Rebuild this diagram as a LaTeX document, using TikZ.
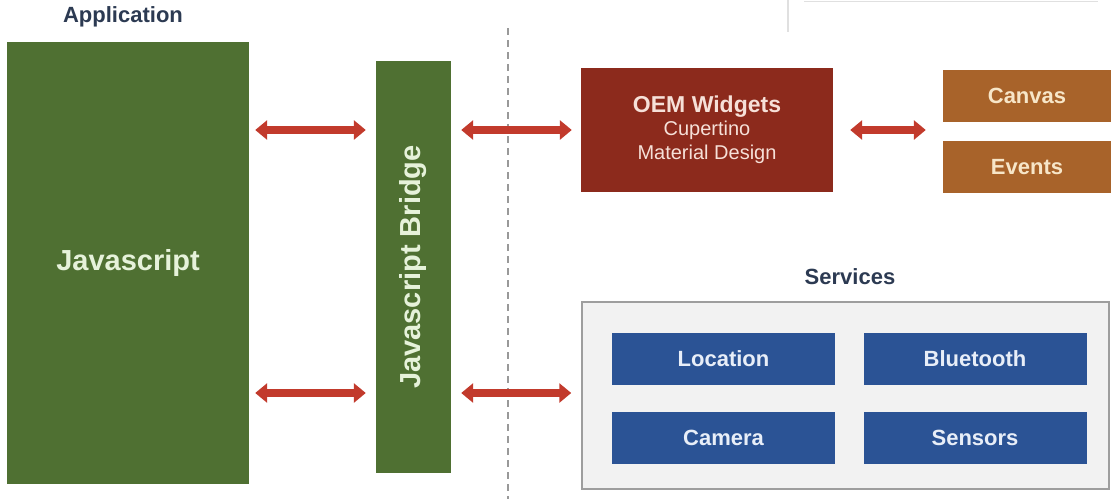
\documentclass[tikz,border=0pt]{standalone}
\usepackage{fontspec}
\usepackage{graphicx}
\setmainfont{Liberation Sans}
\usetikzlibrary{arrows.meta,calc}
\definecolor{jsgreen}{HTML}{4F7032}
\definecolor{oemred}{HTML}{8C2A1C}
\definecolor{canbrown}{HTML}{A8632A}
\definecolor{svcblue}{HTML}{2B5395}
\definecolor{arrred}{HTML}{C23A2C}
\definecolor{navy}{HTML}{2C3A52}
\definecolor{paleg}{HTML}{E6F2DA}
\definecolor{palep}{HTML}{F6E0D8}
\definecolor{cream}{HTML}{F7E6C8}
\definecolor{paleb}{HTML}{E8EEF8}
\tikzset{
  blk/.style={draw=none, inner sep=0pt, align=center},
  greenbox/.style={blk, fill=jsgreen, text=paleg, font=\fontsize{29}{33}\selectfont\bfseries},
  oembox/.style={blk, fill=oemred, text=palep, font=\fontsize{20}{24}\selectfont},
  brownbox/.style={blk, fill=canbrown, text=cream, font=\fontsize{22}{26}\selectfont\bfseries, minimum width=168pt, minimum height=52pt},
  bluebox/.style={blk, fill=svcblue, text=paleb, font=\fontsize{22}{26}\selectfont\bfseries, minimum width=223pt, minimum height=52pt},
  header/.style={text=navy, font=\fontsize{22}{26}\selectfont\bfseries, inner sep=0pt},
  biga/.style={draw=arrred, line width=7.5pt, {Triangle[width=19pt,length=12pt]}-{Triangle[width=19pt,length=12pt]}},
  divider/.style={draw=gray!80, line width=1.6pt, dash pattern=on 7pt off 5pt},
  frag/.style={draw=black!12, line width=1.5pt}
}
\begin{document}
\begin{tikzpicture}[x=1pt,y=-1pt]
\useasboundingbox (0,0) rectangle (1114,499);
% faint fragment at top right
\draw[frag] (788,0) -- (788,32);
\draw[frag] (804,1.5) -- (1098,1.5);
% divider
\coordinate (dtop) at (508,28);
\coordinate (dbot) at (508,499);
\draw[divider] (dtop) -- (dbot);
% labels
\node[header] (app) at (123,17) {Application};
\node[header] (svclbl) at (850,277) {Services};
% main boxes
\node[greenbox, minimum width=242pt, minimum height=442pt] (js) at (128,263) {\raisebox{-4pt}{Javascript}};
\node[greenbox, minimum width=75pt, minimum height=412pt] (bridge) at (413.5,267) {\rotatebox{90}{Javascript Bridge}};
\node[oembox, minimum width=252pt, minimum height=124pt] (oem) at (707,130)
  {{\fontsize{23}{26}\selectfont\bfseries OEM Widgets}\\[-1pt]Cupertino\\Material Design};
\node[brownbox] (canvas) at (1027,96) {Canvas};
\node[brownbox] (events) at (1027,167) {Events};
\node[blk, fill=black!5, draw=black!38, line width=1.5pt, minimum width=527pt, minimum height=187pt] (svc) at (845.5,395.5) {};
\node[bluebox] (loc) at (723.5,358.5) {Location};
\node[bluebox] (blue) at (975,358.5) {Bluetooth};
\node[bluebox] (cam) at (723.5,438) {Camera};
\node[bluebox] (sens) at (975,438) {Sensors};
% arrows
\coordinate (r1) at (0,130);
\coordinate (r2) at (0,393);
\draw[biga, shorten <=6pt, shorten >=10pt] (js.east |- r1) -- (bridge.west |- r1);
\draw[biga, shorten <=6pt, shorten >=10pt] (js.east |- r2) -- (bridge.west |- r2);
\draw[biga, shorten <=10pt, shorten >=9pt] (bridge.east |- r1) -- (oem.west |- r1);
\draw[biga, shorten <=10pt, shorten >=10pt] (bridge.east |- r2) -- (svc.west |- r2);
\draw[biga, shorten <=17pt, shorten >=17pt] (oem.east |- r1) -- (canvas.west |- r1);
\end{tikzpicture}
\end{document}
